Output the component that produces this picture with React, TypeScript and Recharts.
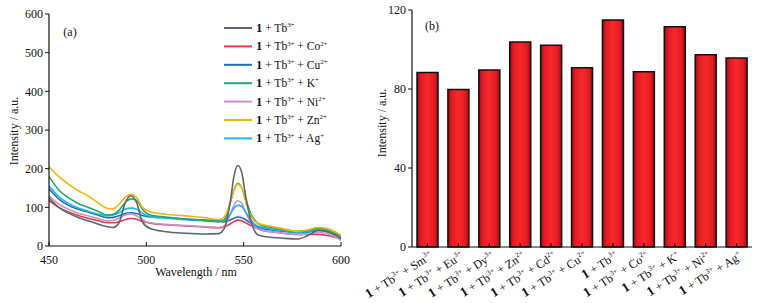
import React from 'react';
import { LineChart, Line, XAxis, YAxis, BarChart, Bar } from 'recharts';

const FONT = '"Liberation Serif", "Times New Roman", serif';

// ---- Panel (a): emission spectra ----
const wavelength = [450, 455, 460, 465, 470, 475, 480, 483, 486, 489, 492, 495, 498, 502, 510, 520, 530, 537, 540, 543, 545, 547, 549, 551, 554, 557, 560, 565, 570, 578, 583, 588, 593, 600];
const tb = [125, 100, 85, 74, 65, 57, 50, 48, 60, 110, 130, 112, 62, 45, 37, 33, 31, 32, 45, 110, 180, 208, 190, 130, 60, 30, 25, 22, 20, 18, 27, 40, 37, 20];
const co = [118, 100, 88, 79, 72, 66, 60, 60, 63, 68, 71, 69, 64, 59, 55, 52, 49, 47, 50, 57, 63, 67, 65, 60, 52, 45, 40, 36, 33, 30, 30, 30, 27, 18];
const cu = [148, 122, 105, 95, 88, 80, 73, 74, 78, 84, 86, 84, 79, 75, 73, 70, 67, 65, 62, 67, 72, 75, 73, 68, 58, 50, 45, 41, 38, 35, 36, 40, 37, 20];
const kk = [180, 145, 125, 110, 100, 90, 80, 82, 92, 112, 122, 118, 95, 80, 75, 70, 66, 63, 68, 110, 145, 162, 150, 120, 80, 60, 52, 47, 42, 38, 40, 45, 42, 25];
const ni = [130, 108, 95, 85, 78, 71, 65, 66, 72, 80, 83, 78, 68, 60, 56, 53, 50, 48, 52, 80, 105, 117, 110, 88, 58, 45, 40, 36, 33, 30, 31, 35, 32, 15];
const zn = [205, 180, 160, 143, 130, 112, 97, 96, 108, 125, 133, 125, 100, 88, 82, 78, 73, 68, 75, 110, 145, 160, 150, 115, 75, 60, 55, 50, 45, 38, 42, 48, 45, 28];
const ag = [155, 128, 110, 98, 90, 83, 78, 80, 86, 95, 98, 95, 85, 76, 72, 68, 65, 63, 65, 82, 98, 105, 102, 88, 65, 52, 48, 43, 40, 36, 37, 42, 40, 22];

const seriesKeys = ['tb', 'co', 'cu', 'k', 'ni', 'zn', 'ag'];
const seriesValues = [tb, co, cu, kk, ni, zn, ag];
const seriesIons = [null, 'Co', 'Cu', 'K', 'Ni', 'Zn', 'Ag'];
const seriesCharges = [null, '2+', '2+', '+', '2+', '2+', '+'];
const seriesColors = ['#5b6670', '#ec3550', '#1f6cc0', '#22a86c', '#c993cf', '#f2b510', '#1ab6ea'];
const drawOrder = [1, 2, 4, 6, 3, 5, 0];

const xTicksA = [450, 500, 550, 600];
const yTicksA = [0, 100, 200, 300, 400, 500, 600];

// ---- Panel (b): bar intensities ----
const barIons = ['Sm', 'Eu', 'Dy', 'Zn', 'Cd', 'Cu', null, 'Co', 'K', 'Ni', 'Ag'];
const barCharges = ['3+', '3+', '3+', '2+', '2+', '2+', null, '2+', '+', '2+', '+'];
const barValues = [88.4, 79.8, 89.6, 103.8, 102.1, 90.8, 114.9, 88.7, 111.5, 97.3, 95.7];
const yTicksB = [0, 40, 80, 120];

const lineData = wavelength.map((w, i) => {
  const row: any = { w };
  seriesKeys.forEach((k, j) => { row[k] = seriesValues[j][i]; });
  return row;
});

const barData = barValues.map((v, i) => ({
  name: '1 + Tb3+' + (barIons[i] ? ' + ' + barIons[i] + barCharges[i] : ''),
  value: v,
}));

function LabelSpans({ ion, charge, fs }: { ion: string | null; charge: string | null; fs: number }) {
  const sup = fs * 0.6;
  const up = fs * 0.42;
  return (
    <>
      <tspan fontWeight="bold" fontSize={fs * 1.1}>1</tspan>
      <tspan> + Tb</tspan>
      <tspan fontSize={sup} dy={-up}>3+</tspan>
      {ion ? (
        <>
          <tspan dy={up}> + {ion}</tspan>
          <tspan fontSize={sup} dy={-up}>{charge}</tspan>
        </>
      ) : null}
    </>
  );
}

const BarTick = (props: any) => {
  const { x, y, index } = props;
  const tx = x + 6;
  const ty = y + 7;
  return (
    <text
      x={tx}
      y={ty}
      textAnchor="end"
      transform={`rotate(-32, ${tx}, ${ty})`}
      fontFamily={FONT}
      fontSize={12}
      fill="#111"
    >
      <LabelSpans ion={barIons[index]} charge={barCharges[index]} fs={12} />
    </text>
  );
};

const tickStyle = { fontFamily: FONT, fontSize: 12, fill: '#111' };
const axisLine = { stroke: '#111', strokeWidth: 1.2 };

export default function App() {
  return (
    <div style={{ position: 'absolute', left: 0, top: 0, width: 769, height: 303, background: '#fff', overflow: 'hidden' }}>
      <div style={{ position: 'absolute', left: 0, top: 0 }}>
        <LineChart width={380} height={303} data={lineData} margin={{ top: 14, right: 39, left: 0, bottom: 27 }}>
          <XAxis
            dataKey="w"
            type="number"
            domain={[450, 600]}
            ticks={xTicksA}
            allowDataOverflow
            height={30}
            tickSize={-4}
            tickMargin={13}
            tick={tickStyle}
            axisLine={axisLine}
            tickLine={{ stroke: '#111' }}
          />
          <XAxis xAxisId="top" orientation="top" dataKey="w" type="number" domain={[450, 600]} height={0} tick={false} tickLine={false} axisLine={axisLine} />
          <YAxis
            domain={[0, 600]}
            ticks={yTicksA}
            width={49}
            tickSize={4}
            tickMargin={2}
            tick={tickStyle}
            axisLine={axisLine}
            tickLine={{ stroke: '#111' }}
          />
          <YAxis yAxisId="right" orientation="right" domain={[0, 600]} width={0} tick={false} tickLine={false} axisLine={axisLine} />
          {drawOrder.map((j) => (
            <Line
              key={seriesKeys[j]}
              dataKey={seriesKeys[j]}
              type="monotone"
              stroke={seriesColors[j]}
              strokeWidth={1.6}
              dot={false}
              isAnimationActive={false}
            />
          ))}
          <text x={70} y={36} textAnchor="middle" fontFamily={FONT} fontSize={12} fill="#111">(a)</text>
          <text x={196} y={276} textAnchor="middle" fontFamily={FONT} fontSize={12} fill="#111">Wavelength / nm</text>
          <text x={18} y={131} textAnchor="middle" transform="rotate(-90, 18, 131)" fontFamily={FONT} fontSize={12} fill="#111">Intensity / a.u.</text>
          {seriesKeys.map((k, j) => {
            const cy = 28 + j * 18.4;
            return (
              <g key={'lg' + k}>
                <line x1={224} x2={252} y1={cy} y2={cy} stroke={seriesColors[j]} strokeWidth={2} />
                <text x={256} y={cy + 4} fontFamily={FONT} fontSize={11.5} fill="#111">
                  <LabelSpans ion={seriesIons[j]} charge={seriesCharges[j]} fs={11.5} />
                </text>
              </g>
            );
          })}
        </LineChart>
      </div>
      <div style={{ position: 'absolute', left: 355, top: 0 }}>
        <BarChart width={414} height={303} data={barData} margin={{ top: 10, right: 17, left: 25, bottom: 0 }} barSize={21}>
          <defs>
            <linearGradient id="barGrad" x1="0" x2="1" y1="0" y2="0">
              <stop offset="0" stopColor="#9a0c12" />
              <stop offset="0.18" stopColor="#e21c24" />
              <stop offset="0.5" stopColor="#f7292b" />
              <stop offset="0.82" stopColor="#e21c24" />
              <stop offset="1" stopColor="#9a0c12" />
            </linearGradient>
          </defs>
          <XAxis
            dataKey="name"
            height={56}
            interval={0}
            tickSize={-4}
            tickMargin={8}
            tick={<BarTick />}
            axisLine={axisLine}
            tickLine={{ stroke: '#111', strokeWidth: 1.2 }}
          />
          <XAxis xAxisId="top" orientation="top" dataKey="name" height={0} tick={false} tickLine={false} axisLine={axisLine} />
          <YAxis
            domain={[0, 120]}
            ticks={yTicksB}
            width={32}
            tickSize={4}
            tickMargin={2}
            tick={tickStyle}
            axisLine={axisLine}
            tickLine={{ stroke: '#111' }}
          />
          <YAxis yAxisId="right" orientation="right" domain={[0, 120]} width={0} tick={false} tickLine={false} axisLine={axisLine} />
          <Bar dataKey="value" fill="url(#barGrad)" stroke="#111" strokeWidth={1.5} isAnimationActive={false} />
          <text x={77} y={30} textAnchor="middle" fontFamily={FONT} fontSize={12} fill="#111">(b)</text>
          <text x={31} y={123} textAnchor="middle" transform="rotate(-90, 31, 123)" fontFamily={FONT} fontSize={12} fill="#111">Intensity / a.u.</text>
        </BarChart>
      </div>
    </div>
  );
}
